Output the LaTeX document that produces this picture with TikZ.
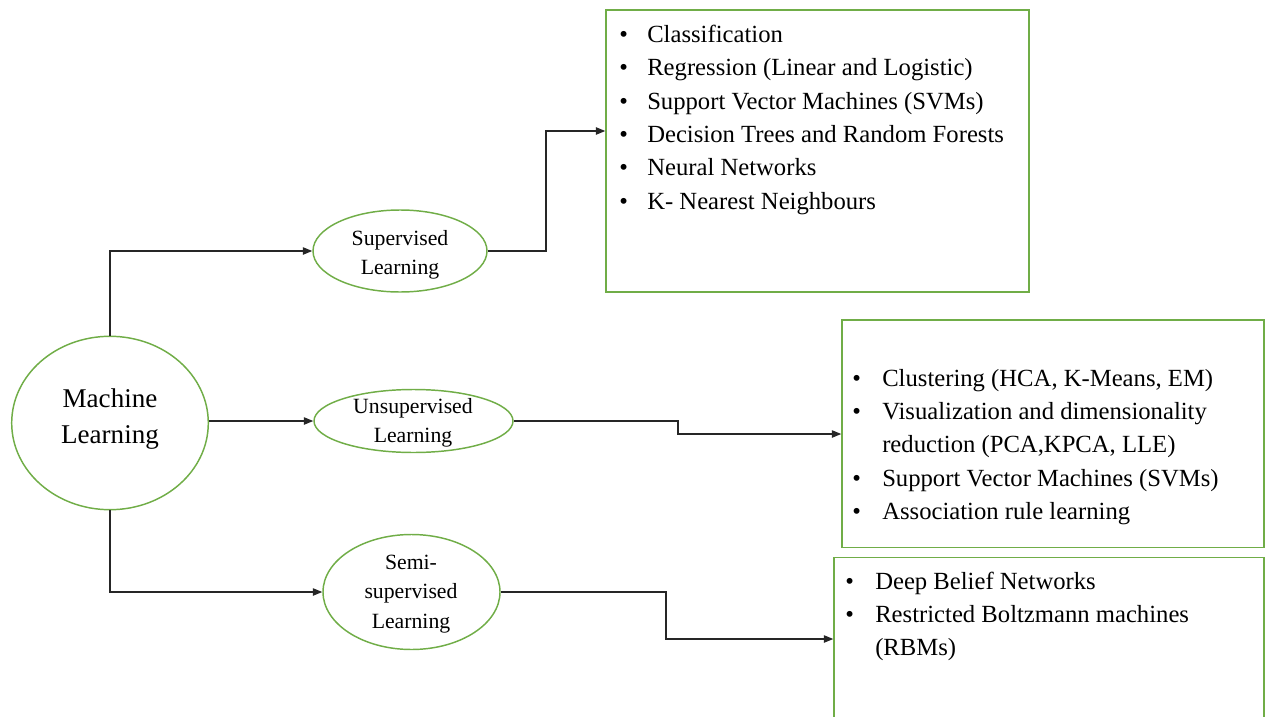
\documentclass[tikz,border=0pt]{standalone}
\usepackage{fontspec}
\setmainfont{Liberation Serif}
\usetikzlibrary{shapes.geometric,arrows.meta}
\definecolor{leaf}{HTML}{70AD47}
\begin{document}
\begin{tikzpicture}[x=0.75pt,y=-0.75pt,
  oval/.style={ellipse,draw=leaf,line width=1.1pt,inner sep=0pt},
  listbox/.style={rectangle,draw=leaf,line width=1.1pt,inner sep=0pt},
  link/.style={draw=black!85,line width=0.9pt,-{Triangle[length=7pt,width=5.5pt]}},
  ovaltext/.style={align=center,inner sep=0pt,font=\fontsize{16.3}{22}\selectfont},
  listtext/.style={anchor=base west,inner sep=0pt,font=\fontsize{18.5}{25}\selectfont}]
\useasboundingbox (0,0) rectangle (1270,717);
\clip (0,0) rectangle (1270,717);

% ellipses
\node[oval,minimum width={196.6*0.75pt},minimum height={173.4*0.75pt}] (ml) at (110,423) {};
\node[align=center,inner sep=0pt,font=\fontsize{20.3}{27}\selectfont] (mlt) at (110,419) {Machine\\Learning};

\node[oval,minimum width={174*0.75pt},minimum height={82*0.75pt}] (sup) at (400,251) {};
\node[ovaltext] (supt) at (400,255) {Supervised\\Learning};

\node[oval,minimum width={199*0.75pt},minimum height={63*0.75pt}] (unsup) at (413.5,421) {};
\node[ovaltext] (unsupt) at (413,423) {Unsupervised\\Learning};

\node[oval,minimum width={177*0.75pt},minimum height={115*0.75pt}] (semi) at (411.5,592) {};
\node[ovaltext] (semit) at (411,594) {Semi-\\supervised\\Learning};

% boxes
\node[listbox,minimum width={423*0.75pt},minimum height={282*0.75pt}] (box1) at (817.5,151) {};
\node[listbox,minimum width={422*0.75pt},minimum height={227.5*0.75pt}] (box2) at (1053,433.75) {};
\node[listbox,minimum width={430*0.75pt},minimum height={182.5*0.75pt}] (box3) at (1049,648.75) {};

% list contents
\node[listtext] (list1) at (619,42.5) {%
  \begin{tabular}[t]{@{}p{21pt}@{}l@{}}
  \textbullet & Classification\\
  \textbullet & Regression (Linear and Logistic)\\
  \textbullet & Support Vector Machines (SVMs)\\
  \textbullet & Decision Trees and Random Forests\\
  \textbullet & Neural Networks\\
  \textbullet & K- Nearest Neighbours
  \end{tabular}};

\node[listtext] (list2) at (852,386) {%
  \begin{tabular}[t]{@{}p{22.5pt}@{}l@{}}
  \textbullet & Clustering (HCA, K-Means, EM)\\
  \textbullet & Visualization and dimensionality\\
              & reduction (PCA,KPCA, LLE)\\
  \textbullet & Support Vector Machines (SVMs)\\
  \textbullet & Association rule learning
  \end{tabular}};

\node[listtext] (list3) at (845,589.3) {%
  \begin{tabular}[t]{@{}p{22.5pt}@{}l@{}}
  \textbullet & Deep Belief Networks\\
  \textbullet & Restricted Boltzmann machines\\
              & (RBMs)
  \end{tabular}};

% bends of the elbow connectors
\coordinate (sbend) at (546,131);
\coordinate (ubend) at (678,434);
\coordinate (mbend) at (666,639);

% connectors
\draw[link] (ml.north) |- (sup.west);
\draw[link] (ml.east |- unsup.west) -- (unsup.west);
\draw[link] (ml.south) |- (semi.west);
\draw[link] (sup.east) -| (sbend) -- (box1.west |- sbend);
\draw[link] (unsup.east) -| (ubend) -- (box2.west |- ubend);
\draw[link] (semi.east) -| (mbend) -- (box3.west |- mbend);
\end{tikzpicture}
\end{document}
